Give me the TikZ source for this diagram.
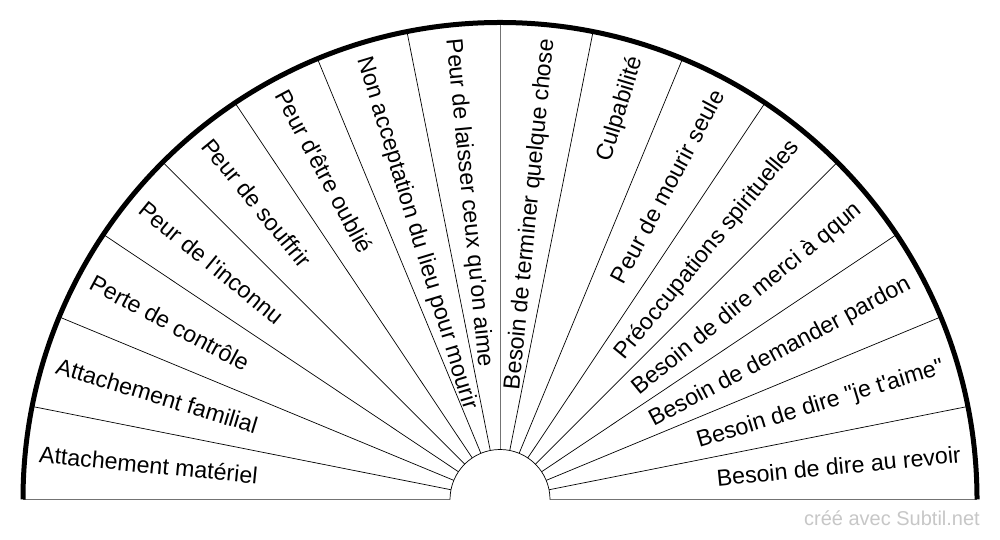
\documentclass[tikz,border=0pt]{standalone}
\usepackage{fontspec}
\newfontfamily\lab{Liberation Sans}
\begin{document}
\begin{tikzpicture}[x=1pt,y=1pt,
  lbl/.style={font=\lab\fontsize{23.2}{28}\selectfont, inner sep=0pt, text height=16.6pt, text depth=0pt},
  radial/.style={line width=0.7pt, black},
  axisline/.style={line width=1pt, black!55},
  rim/.style={line width=5pt, black},
  credit/.style={font=\lab\fontsize{20}{24}\selectfont, text=black!22, inner sep=0pt}]
\useasboundingbox (0,0) rectangle (1000,540);
\fill[white] (0,0) rectangle (1000,540);
\coordinate (C) at (500,40.5);
% radial separators
\foreach \k in {1,...,7,9,10,...,15} {
  \pgfmathsetmacro{\a}{180-\k*11.25}
  \draw[radial] ([shift={(\a:50)}]C) -- ([shift={(\a:476)}]C);
}
\draw[axisline] ([shift={(90:50)}]C) -- ([shift={(90:476)}]C);
% base line
\draw[axisline] ([shift={(180:477)}]C) -- ([shift={(180:50)}]C);
\draw[axisline] ([shift={(0:50)}]C) -- ([shift={(0:477)}]C);
% inner arc
\draw[radial] ([shift={(180:50)}]C) arc (180:0:50);
% outer rim
\draw[rim] ([shift={(180:477)}]C) arc (180:0:477);
% left labels
\foreach \t [count=\i from 0] in {Attachement matériel, Attachement familial, Perte de contrôle, Peur de l'inconnu, Peur de souffrir, Peur d'être oublié, Non acceptation du lieu pour mourir, Peur de laisser ceux qu'on aime} {
  \pgfmathsetmacro{\a}{180-(\i+0.5)*11.25}
  \pgfmathsetmacro{\r}{\a-180}
  \node[lbl, anchor=west, rotate=\r] (l\i) at ([shift={(\a:463)}]C) {\t};
}
% right labels
\foreach \t [count=\i from 8] in {Besoin de terminer quelque chose, Culpabilité, Peur de mourir seule, Préoccupations spirituelles, Besoin de dire merci à qqun, Besoin de demander pardon, Besoin de dire "je t'aime", Besoin de dire au revoir} {
  \pgfmathsetmacro{\a}{180-(\i+0.5)*11.25}
  \node[lbl, anchor=east, rotate=\a] (l\i) at ([shift={(\a:463)}]C) {\t};
}
\node[credit, anchor=base east] (credit) at (980,14) {créé avec Subtil.net};
\end{tikzpicture}
\end{document}
